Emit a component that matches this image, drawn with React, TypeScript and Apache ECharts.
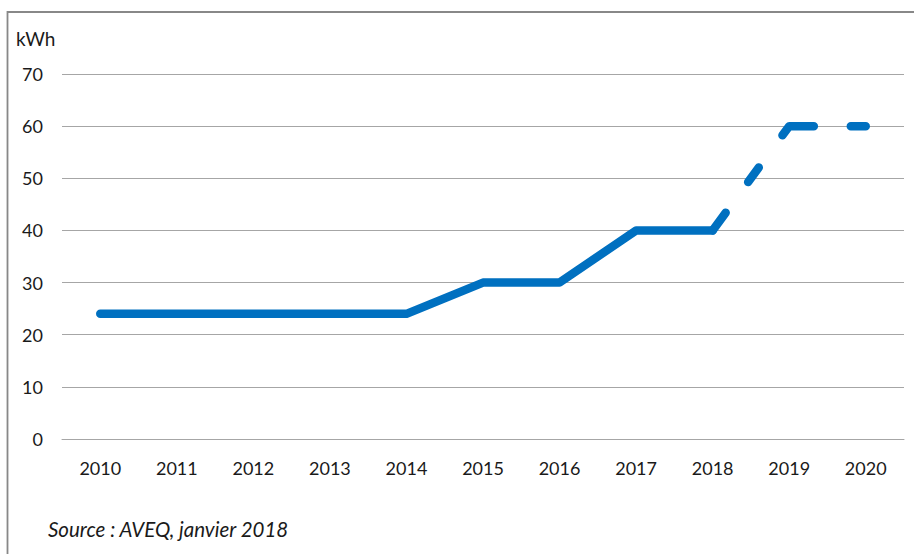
import React, { useEffect, useRef } from "react";
import * as echarts from "echarts";

const years = ["2010", "2011", "2012", "2013", "2014", "2015", "2016", "2017", "2018", "2019", "2020"];
const actualValues: (number | string)[] = [24, 24, 24, 24, 24, 30, 30, 40, 40, "-", "-"];
const projectedValues: (number | string)[] = ["-", "-", "-", "-", "-", "-", "-", "-", 40, 60, 60];
const unitLabel = "kWh";
const sourceText = "Source : AVEQ, janvier 2018";

const FONT = "Lato, 'Open Sans', sans-serif";
const BLUE = "#0070C0";

export default function App() {
  const ref = useRef<HTMLDivElement>(null);
  useEffect(() => {
    if (!ref.current) return;
    const chart = echarts.init(ref.current, undefined, { renderer: "svg" });
    chart.setOption({
      animation: false,
      backgroundColor: "#ffffff",
      grid: { left: 62, right: 10, top: 74, bottom: 115 },
      xAxis: {
        type: "category",
        data: years,
        boundaryGap: true,
        axisTick: { show: false },
        axisLine: { lineStyle: { color: "#a6a6a6", width: 1 } },
        axisLabel: { color: "#1a1a1a", fontFamily: FONT, fontSize: 18, margin: 20 },
      },
      yAxis: {
        type: "value",
        min: 0,
        max: 70,
        interval: 10,
        axisLine: { show: false },
        axisTick: { show: false },
        axisLabel: { color: "#1a1a1a", fontFamily: FONT, fontSize: 18, margin: 19 },
        splitLine: { lineStyle: { color: "#a6a6a6", width: 1 } },
      },
      series: [
        {
          type: "line",
          data: actualValues,
          showSymbol: false,
          symbol: "none",
          lineStyle: { color: BLUE, width: 8.5, cap: "round", join: "round" },
        },
        {
          type: "line",
          data: projectedValues,
          showSymbol: false,
          symbol: "none",
          lineStyle: { color: BLUE, width: 8.5, type: [22, 38, 18, 40, 36, 37, 20, 10], cap: "round", join: "round" },
        },
      ],
      graphic: [
        {
          type: "rect",
          shape: { x: 7.5, y: 12, width: 1000, height: 1000 },
          style: { fill: "none", stroke: "#888888", lineWidth: 1.8 },
          silent: true,
        },
        {
          type: "text",
          left: 16,
          top: 29,
          style: { text: unitLabel, font: `19px ${FONT}`, fill: "#1a1a1a" },
        },
        {
          type: "text",
          left: 48,
          top: 519,
          style: { text: sourceText, font: `italic 20.5px ${FONT}`, fill: "#1a1a1a" },
        },
      ],
    });
    return () => chart.dispose();
  }, []);
  return <div ref={ref} style={{ position: "absolute", left: 0, top: 0, width: 914, height: 554 }} />;
}
